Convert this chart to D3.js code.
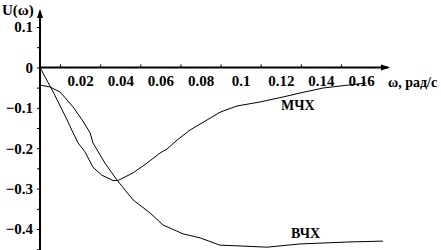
<!DOCTYPE html>
<html>
<head>
<meta charset="utf-8">
<script src="https://cdn.jsdelivr.net/npm/d3@7"></script>
<style>
  body { margin: 0; background: #fff; }
  text { font-family: "Liberation Serif", "Times New Roman", serif; }
</style>
</head>
<body>
<div class="canva"></div>
<script>
// values: [omega, U]
const mchx = [
  [0, 0], [0.007, -0.065], [0.0135, -0.13], [0.0165, -0.162], [0.019, -0.187],
  [0.0224, -0.209], [0.0264, -0.247], [0.0309, -0.267], [0.0364, -0.28],
  [0.0389, -0.28], [0.0464, -0.261], [0.0533, -0.237], [0.0598, -0.212],
  [0.0633, -0.202], [0.0683, -0.18], [0.0748, -0.155], [0.0833, -0.13],
  [0.0897, -0.111], [0.0982, -0.0955], [0.1097, -0.0856], [0.1211, -0.0733],
  [0.1296, -0.0634], [0.1411, -0.051], [0.1625, -0.0386]
];
const vchx = [
  [0, -0.0436], [0.005, -0.0485], [0.01, -0.061], [0.0165, -0.098],
  [0.021, -0.13], [0.025, -0.162], [0.0264, -0.187], [0.0324, -0.237],
  [0.0384, -0.279], [0.0464, -0.328], [0.0548, -0.36], [0.0613, -0.39],
  [0.0713, -0.412], [0.0798, -0.422], [0.0897, -0.44], [0.0997, -0.442],
  [0.1132, -0.445], [0.1296, -0.437], [0.1545, -0.432], [0.171, -0.43]
];
const xTicks = [0.02, 0.04, 0.06, 0.08, 0.1, 0.12, 0.14, 0.16];
const xMinor = [0.01, 0.03, 0.05, 0.07, 0.09, 0.11, 0.13, 0.15];
const yTicks = [0.1, 0, -0.1, -0.2, -0.3, -0.4];
const yMinor = [0.1, 0.05, 0, -0.05, -0.1, -0.15, -0.2, -0.25, -0.3, -0.35, -0.4, -0.45];

const svg = d3.select(".canva").append("svg")
    .attr("width", 441)
    .attr("height", 250);

const x = d3.scaleLinear().domain([0, 0.16]).range([40, 361]);
const y = d3.scaleLinear().domain([0.1, -0.4]).range([27, 229]);

const fmt = d => d === 0 ? "0" : String(d).replace("-", "\u2212");

// y axis: ticks on the left
const yAxisGroup = svg.append("g").attr("transform", `translate(${x(0)},0)`);
yAxisGroup.call(d3.axisLeft(y).tickValues(yMinor).tickSize(3).tickFormat(""));
yAxisGroup.append("g").call(d3.axisLeft(y).tickValues(yTicks).tickSize(0).tickPadding(7).tickFormat(fmt));
yAxisGroup.selectAll(".domain").remove();
yAxisGroup.selectAll("text")
    .attr("font-size", 15).attr("font-weight", "bold")
    .attr("font-family", "Liberation Serif").attr("fill", "#000");

// x axis: labels below, minor ticks above
const xAxisGroup = svg.append("g").attr("transform", `translate(0,${y(0)})`);
xAxisGroup.call(d3.axisTop(x).tickValues(xMinor).tickSize(3).tickFormat(""));
xAxisGroup.append("g").call(d3.axisBottom(x).tickValues(xTicks).tickSize(0).tickPadding(8).tickFormat(fmt));
xAxisGroup.selectAll(".domain").remove();
xAxisGroup.selectAll("text")
    .attr("font-size", 15).attr("font-weight", "bold")
    .attr("font-family", "Liberation Serif").attr("fill", "#000");

// axis lines with arrows
svg.append("line").attr("x1", x(0)).attr("x2", x(0)).attr("y1", 11).attr("y2", 250)
    .attr("stroke", "#000").attr("stroke-width", 2);
svg.append("path").attr("d", `M${x(0) - 3},18 L${x(0)},9 L${x(0) + 3},18 Z`).attr("fill", "#000");
svg.append("line").attr("x1", x(0)).attr("x2", 388).attr("y1", y(0)).attr("y2", y(0))
    .attr("stroke", "#000").attr("stroke-width", 2);
svg.append("path").attr("d", `M381,${y(0) - 3} L390,${y(0)} L381,${y(0) + 3} Z`).attr("fill", "#000");

svg.append("text").attr("x", 2).attr("y", 15).attr("font-size", 15).attr("font-weight", "bold")
    .text("U(\u03c9)");
svg.append("text").attr("x", 388).attr("y", 87).attr("font-size", 14).attr("font-weight", "bold")
    .text("\u03c9, рад/с");

const line = d3.line().x(d => x(d[0])).y(d => y(d[1]));
svg.append("path").datum(mchx).attr("d", line)
    .attr("fill", "none").attr("stroke", "#000").attr("stroke-width", 1);
svg.append("path").datum(vchx).attr("d", line)
    .attr("fill", "none").attr("stroke", "#000").attr("stroke-width", 1);

svg.append("text").attr("x", 281).attr("y", 110).attr("font-size", 14).attr("font-weight", "bold")
    .text("МЧХ");
svg.append("text").attr("x", 291).attr("y", 238).attr("font-size", 14).attr("font-weight", "bold")
    .text("ВЧХ");
</script>
</body>
</html>
